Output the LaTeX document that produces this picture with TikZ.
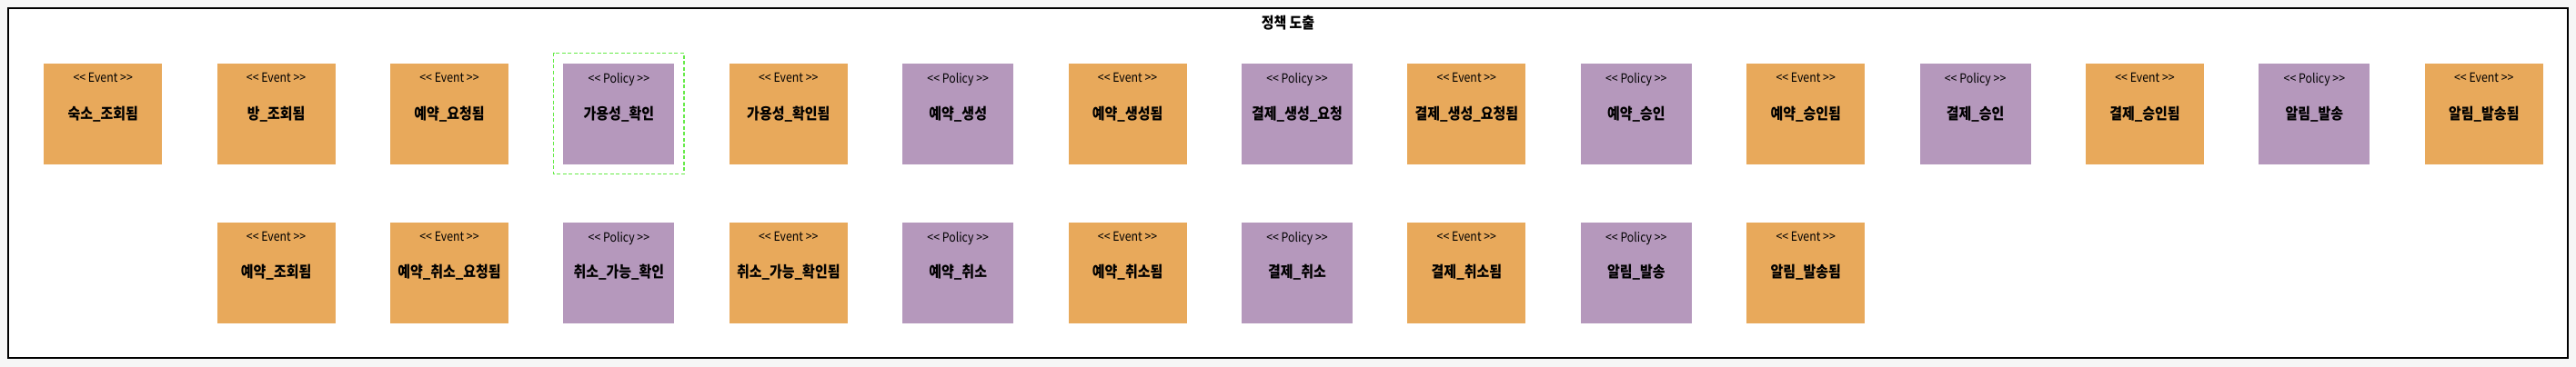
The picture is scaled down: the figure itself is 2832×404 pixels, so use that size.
\documentclass[tikz,border=0pt]{standalone}
\usepackage{fontspec}
\setmainfont{Noto Sans CJK KR}[Ligatures=TeXOff]
\newfontfamily\cardfont{Noto Sans CJK KR}[FakeStretch=0.88]
\usetikzlibrary{positioning}
\definecolor{evtorange} {RGB}{232,169,91}
\definecolor{polpurple} {RGB}{181,152,188}
\definecolor{selgreen}  {RGB}{102,235,72}
\definecolor{bggray}    {RGB}{246,246,246}
\newcommand{\Evt}{<< Event >>}
\newcommand{\Pol}{<< Policy >>}

\begin{document}
\begin{tikzpicture}[
    x=1pt,y=1pt,
    node distance=63pt and 60pt,
    card/.style  ={rectangle,inner sep=0pt,minimum height=111pt,
                   font=\cardfont\fontsize{17}{20}\selectfont\bfseries,
                   align=center},
    stereo/.style={anchor=north,inner sep=0pt,yshift=-10.5pt,
                   font=\cardfont\fontsize{14}{16}\selectfont},
    event/.style ={card,fill=evtorange,minimum width=130pt,
                   label={[stereo]north:\Evt}},
    policy/.style={card,fill=polpurple,minimum width=122pt,
                   label={[stereo]north:\Pol}},
  ]
  %% Canvas and frame
  \fill[bggray] (0,0) rectangle (2832,-404);
  \useasboundingbox (0,0) rectangle (2832,-404);
  \draw[line width=2pt,fill=white] (9,-9) rectangle (2823,-394);

  \node[font=\cardfont\fontsize{17}{20}\selectfont\bfseries] (title)
    at (1416,-25) {정책 도출};

  %% Booking flow
  \node[event,anchor=north west] (lodging) at (48,-70) {숙소\_조회됨};
  \node[event]  (room)        [right=of lodging]     {방\_조회됨};
  \node[event]  (resreq)      [right=of room]        {예약\_요청됨};
  \node[policy] (avail)       [right=of resreq]      {가용성\_확인};
  \node[event]  (availok)     [right=of avail]       {가용성\_확인됨};
  \node[policy] (rescreate)   [right=of availok]     {예약\_생성};
  \node[event]  (rescreated)  [right=of rescreate]   {예약\_생성됨};
  \node[policy] (payreq)      [right=of rescreated]  {결제\_생성\_요청};
  \node[event]  (payreqd)     [right=of payreq]      {결제\_생성\_요청됨};
  \node[policy] (resapprove)  [right=of payreqd]     {예약\_승인};
  \node[event]  (resapproved) [right=of resapprove]  {예약\_승인됨};
  \node[policy] (payapprove)  [right=of resapproved] {결제\_승인};
  \node[event]  (payapproved) [right=of payapprove]  {결제\_승인됨};
  \node[policy] (notify)      [right=of payapproved] {알림\_발송};
  \node[event]  (notified)    [right=of notify]      {알림\_발송됨};

  %% Cancel flow
  \node[event]  (resview)     [below=of room]        {예약\_조회됨};
  \node[event]  (cancelreq)   [below=of resreq]      {예약\_취소\_요청됨};
  \node[policy] (cancelchk)   [below=of avail]       {취소\_가능\_확인};
  \node[event]  (cancelok)    [below=of availok]     {취소\_가능\_확인됨};
  \node[policy] (rescancel)   [below=of rescreate]   {예약\_취소};
  \node[event]  (rescanceled) [below=of rescreated]  {예약\_취소됨};
  \node[policy] (paycancel)   [below=of payreq]      {결제\_취소};
  \node[event]  (paycanceled) [below=of payreqd]     {결제\_취소됨};
  \node[policy] (notifyc)     [below=of resapprove]  {알림\_발송};
  \node[event]  (notifiedc)   [below=of resapproved] {알림\_발송됨};

  %% Selection
  \draw[selgreen,dashed,line width=1.5pt,dash pattern=on 4pt off 2.5pt]
    ([shift={(-10.5,11.5)}]avail.north west) rectangle
    ([shift={(10.5,-10)}]avail.south east);
\end{tikzpicture}
\end{document}
